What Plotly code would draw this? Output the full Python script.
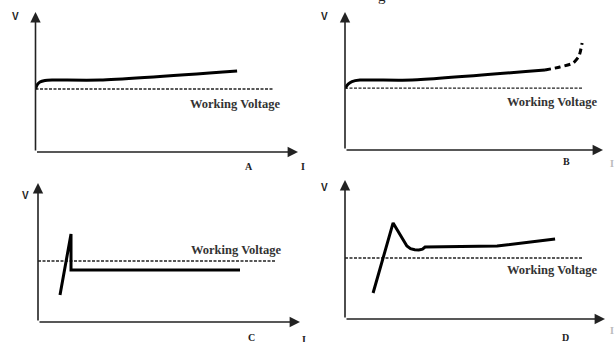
import plotly.graph_objects as go

W, H = 615, 342

# curve data, each panel in its own units (0..100 along both axes)
a_t = [0, 0.6, 1.7, 3.6, 6.3, 24.6, 76.8]
a_v = [45, 47.9, 50, 51.1, 51.4, 51.4, 57.9]

b_t = [0, 1.2, 2.7, 5.8, 26, 77.5]
b_v = [44.9, 47.8, 49.6, 50.7, 50.7, 58]
b_fail_t = [77.5, 83.3, 88.4, 90.7, 91.9]
b_fail_v = [58, 60.1, 63, 68.1, 77.5]

c_t = [8.4, 12.6, 12.6, 77.1]
c_v = [19.4, 63.3, 37.4, 37.4]

d_t = [10.8, 18.5, 23.8, 25.2, 26.8, 28.4, 29.8, 30.8, 58.5, 80.8]
d_v = [18.7, 69.1, 52.5, 50.6, 49.8, 49.7, 50.2, 51.8, 52.5, 57.6]

work_v = [45, 44.9, 43.9, 43.9]
work_end = [90.5, 91.9, 90.5, 91.2]
panel_names = ['A', 'B', 'C', 'D']

# pixel boxes: y-axis x, x-axis y, arrow tip x, arrow tip y
boxes = [(35.5, 152, 298, 12), (345, 150, 603, 12),
         (38, 322, 300, 183), (345, 319, 605, 180)]

fig = go.Figure()
ann = []
ink = '#222'
for i, (x0, y0, x1, y1) in enumerate(boxes):
    n = '' if i == 0 else str(i + 1)
    fig.update_layout(**{
        'xaxis' + n: dict(domain=[x0 / W, x1 / W], range=[0, 100], visible=False, anchor='y' + n),
        'yaxis' + n: dict(domain=[(H - y0) / H, (H - y1) / H], range=[0, 100], visible=False, anchor='x' + n),
    })
    xr, yr = 'x' + n, 'y' + n
    # axes with arrowheads
    for tx, ty in [(100, 0), (0, 100)]:
        ann.append(dict(x=tx, y=ty, ax=0, ay=0, xref=xr, yref=yr, axref=xr, ayref=yr,
                        showarrow=True, arrowhead=2, arrowsize=1.3, arrowwidth=1.6,
                        arrowcolor=ink, text=''))
    # working voltage reference line
    fig.add_trace(go.Scatter(x=[0, work_end[i]], y=[work_v[i], work_v[i]], mode='lines',
                             line=dict(color=ink, width=1.3, dash='3px,1.5px'),
                             xaxis=xr, yaxis=yr, showlegend=False))

curves = [(a_t, a_v, 'spline'), (b_t, b_v, 'spline'), (c_t, c_v, 'linear'), (d_t, d_v, 'linear')]
for i, (t, v, shape) in enumerate(curves):
    n = '' if i == 0 else str(i + 1)
    fig.add_trace(go.Scatter(x=t, y=v, mode='lines', line=dict(color='black', width=3, shape=shape,
                             smoothing=0.6), xaxis='x' + n, yaxis='y' + n, showlegend=False))
fig.add_trace(go.Scatter(x=b_fail_t, y=b_fail_v, mode='lines',
                         line=dict(color='black', width=3, dash='6px,4px', shape='spline', smoothing=0.6),
                         xaxis='x2', yaxis='y2', showlegend=False))


def label(px, py, text, font):
    ann.append(dict(x=px / W, y=1 - py / H, xref='paper', yref='paper', showarrow=False,
                    xanchor='center', yanchor='middle', text=text, font=font))


serif = 'Liberation Serif'
# "Working Voltage" labels (pixel centres)
for px, py in [(235, 104), (552, 102), (236, 250), (552, 270)]:
    label(px, py, '<b>Working Voltage</b>', dict(family=serif, size=12.5, color='#333'))
# V labels
for px, py in [(15, 17), (324, 17), (25, 195), (324, 187)]:
    label(px, py, '<b>V</b>', dict(family='Liberation Sans', size=10, color=ink))
# panel letters
for name, (px, py) in zip(panel_names, [(249, 166), (566, 162), (252, 337), (565, 337)]):
    label(px, py, '<b>' + name + '</b>', dict(family=serif, size=10, color=ink))
# current axis labels (the right-hand ones sit on the picture edge in the original)
for px, py, col in [(303, 166, ink), (304, 339, ink), (612, 163, '#bbb'), (612, 330, '#bbb')]:
    label(px, py, '<b>I</b>', dict(family=serif, size=10, color=col))
# cut-off title fragment at the top edge
label(382, -4, 'g', dict(family=serif, size=15, color=ink))

fig.update_layout(width=W, height=H, margin=dict(l=0, r=0, t=0, b=0),
                  paper_bgcolor='white', plot_bgcolor='white', annotations=ann)
fig.write_html("out.html", config={'displayModeBar': False},
               post_script="document.body.style.margin='0';")
